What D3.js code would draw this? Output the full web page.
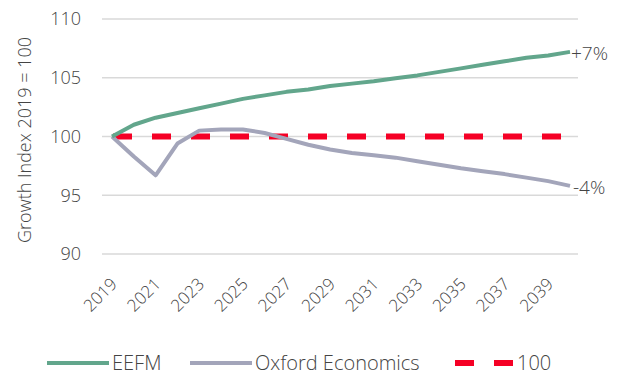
<!DOCTYPE html>
<html>
<head>
<meta charset="utf-8">
<script src="https://cdn.jsdelivr.net/npm/d3@7"></script>
<style>
  html, body { margin: 0; padding: 0; background: #ffffff; }
  svg { display: block; }
  text { font-family: "Open Sans", "Noto Sans", sans-serif; font-weight: 300; fill: #444444; }
</style>
</head>
<body>
<svg id="chart" width="622" height="376"></svg>
<script>
// Growth index, 2019 = 100
const years = d3.range(2019, 2041);
const eefm = [100, 101.0, 101.6, 102.0, 102.4, 102.8, 103.2, 103.5, 103.8, 104.0, 104.3,
              104.5, 104.7, 104.95, 105.2, 105.5, 105.8, 106.1, 106.4, 106.7, 106.9, 107.2];
const oxford = [100, 98.3, 96.7, 99.4, 100.5, 100.6, 100.6, 100.3, 99.8, 99.3, 98.9,
                98.6, 98.4, 98.2, 97.9, 97.6, 97.3, 97.05, 96.8, 96.5, 96.2, 95.8];
const baseline = years.map(() => 100);
const yTicks = [90, 95, 100, 105, 110];
const xTickYears = d3.range(2019, 2040, 2);
const endLabels = ["+7%", "-4%"];
const legendNames = ["EEFM", "Oxford Economics", "100"];

const colors = { eefm: "#62a68c", oxford: "#a3a5ba", base: "#f50025", grid: "#d9d9d9", text: "#444444" };

const svg = d3.select("#chart");
const plot = { left: 102, right: 578, top: 19, bottom: 254 };

const x = d3.scalePoint().domain(years).range([112, 570]);
const y = d3.scaleLinear().domain([90, 110]).range([plot.bottom, plot.top]);

// gridlines
svg.append("g").selectAll("line").data(yTicks).join("line")
  .attr("x1", plot.left).attr("x2", plot.right)
  .attr("y1", d => y(d)).attr("y2", d => y(d))
  .attr("stroke", colors.grid).attr("stroke-width", 1.5);

// y axis labels
const yAxis = d3.axisLeft(y).tickValues(yTicks).tickSize(0).tickPadding(0);
const gy = svg.append("g").attr("transform", "translate(81,0)").call(yAxis);
gy.select(".domain").remove();
gy.selectAll("text").style("font-size", "18px").attr("fill", colors.text)
  .style("font-family", "'Open Sans', sans-serif").style("font-weight", 300);

// y axis title
svg.append("text")
  .attr("transform", "translate(31,140) rotate(-90)")
  .attr("text-anchor", "middle")
  .style("font-size", "18px")
  .text("Growth Index 2019 = 100");

// x axis labels (every second year, rotated)
const xAxis = d3.axisBottom(x).tickValues(xTickYears).tickSize(0).tickPadding(0);
const gx = svg.append("g").call(xAxis);
gx.select(".domain").remove();
gx.selectAll(".tick").attr("transform", d => `translate(${x(d) + 2},281)`);
gx.selectAll("text")
  .attr("y", 0).attr("dy", "0.35em")
  .attr("transform", "rotate(-45)")
  .attr("text-anchor", "end")
  .attr("fill", colors.text)
  .style("font-size", "17px")
  .style("font-family", "'Open Sans', sans-serif").style("font-weight", 300);

const line = d3.line().x((d, i) => x(years[i])).y(d => y(d));

// 100 baseline
svg.append("path").datum(baseline)
  .attr("d", line).attr("fill", "none")
  .attr("stroke", colors.base).attr("stroke-width", 6)
  .attr("stroke-dasharray", "19 20")
  .attr("stroke-dashoffset", -1);

svg.append("path").datum(oxford)
  .attr("d", line).attr("fill", "none")
  .attr("stroke", colors.oxford).attr("stroke-width", 4)
  .attr("stroke-linejoin", "round");

svg.append("path").datum(eefm)
  .attr("d", line).attr("fill", "none")
  .attr("stroke", colors.eefm).attr("stroke-width", 4)
  .attr("stroke-linejoin", "round");

// end-of-series labels
const last = years.length - 1;
svg.append("text").attr("x", x(years[last]) + 1).attr("y", y(eefm[last]) + 1)
  .attr("dy", "0.35em").style("font-size", "19px").text(endLabels[0]);
svg.append("text").attr("x", x(years[last]) + 3).attr("y", y(oxford[last]) + 1)
  .attr("dy", "0.35em").style("font-size", "19px").text(endLabels[1]);

// legend
const lg = svg.append("g");
const ly = 363;
lg.append("line").attr("x1", 47).attr("x2", 109).attr("y1", ly).attr("y2", ly)
  .attr("stroke", colors.eefm).attr("stroke-width", 4);
lg.append("text").attr("x", 112).attr("y", ly).attr("dy", "0.35em")
  .style("font-size", "20px").text(legendNames[0]);
lg.append("line").attr("x1", 190).attr("x2", 252).attr("y1", ly).attr("y2", ly)
  .attr("stroke", colors.oxford).attr("stroke-width", 4);
lg.append("text").attr("x", 255).attr("y", ly).attr("dy", "0.35em")
  .style("font-size", "20px").text(legendNames[1]);
lg.append("line").attr("x1", 455).attr("x2", 514).attr("y1", ly).attr("y2", ly)
  .attr("stroke", colors.base).attr("stroke-width", 6)
  .attr("stroke-dasharray", "19 20");
lg.append("text").attr("x", 517).attr("y", ly).attr("dy", "0.35em")
  .style("font-size", "20px").text(legendNames[2]);
</script>
</body>
</html>
